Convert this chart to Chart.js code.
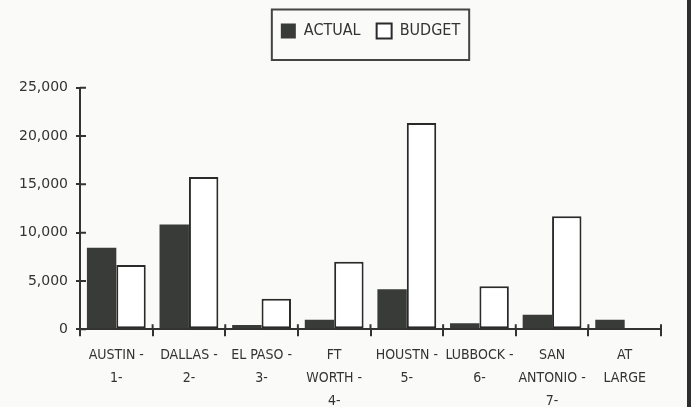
<!doctype html>
<html lang="en">
<head>
<meta charset="utf-8">
<title>Actual vs Budget</title>
<script src="https://cdn.jsdelivr.net/npm/chart.js@4.4.1/dist/chart.umd.min.js"></script>
<style>
  html, body { margin: 0; padding: 0; background: #fafaf8; overflow: hidden; }
  #wrap { width: 687px; height: 407px; border-right: 4px solid #2e2e2e; }
  canvas { display: block; }
</style>
</head>
<body>
<div id="wrap"><canvas id="myChart" width="687" height="407"></canvas></div>
<script>
// x축 라벨 (여러 줄)
const cities = [
  ["AUSTIN -", "1-"],
  ["DALLAS -", "2-"],
  ["EL PASO -", "3-"],
  ["FT", "WORTH -", "4-"],
  ["HOUSTN -", "5-"],
  ["LUBBOCK -", "6-"],
  ["SAN", "ANTONIO -", "7-"],
  ["AT", "LARGE"]
];
const actual = [8450, 10850, 450, 1000, 4150, 620, 1500, 1000];
const budget = [6650, 15750, 3150, 7000, 21350, 4450, 11700, 0];
const yTicks = [0, 5000, 10000, 15000, 20000, 25000];

const ink = "#333";
const narrow = "'Liberation Sans Narrow', 'DejaVu Sans Condensed', sans-serif";

// 축을 가로지르는 눈금 + 범례 테두리
const extras = {
  id: "extras",
  afterDraw(chart) {
    const ctx = chart.ctx;
    const area = chart.chartArea;
    const x = chart.scales.x, y = chart.scales.y;
    ctx.save();
    ctx.strokeStyle = ink;
    ctx.lineWidth = 2;
    ctx.beginPath();
    y.ticks.forEach(t => {
      const py = y.getPixelForValue(t.value);
      ctx.moveTo(area.left, py);
      ctx.lineTo(area.left + 6, py);
    });
    for (let i = 0; i <= cities.length; i++) {
      const px = x.getPixelForValue(i - 0.5);
      ctx.moveTo(px, area.bottom);
      ctx.lineTo(px, area.bottom - 5);
    }
    ctx.stroke();

    const boxes = chart.legend.legendHitBoxes;
    if (boxes && boxes.length) {
      const first = boxes[0], last = boxes[boxes.length - 1];
      const l = first.left - 9, r = last.left + last.width + 9;
      const t = first.top - 13.5, b = first.top + first.height + 21;
      ctx.strokeStyle = "#444";
      ctx.strokeRect(l, t, r - l, b - t);
    }
    ctx.restore();
  }
};

new Chart(document.getElementById("myChart"), {
  type: "bar",
  data: {
    labels: cities,
    datasets: [{
      label: "ACTUAL",
      data: actual,
      backgroundColor: "#393b38",
      borderColor: "#393b38",
      borderWidth: 0,
      categoryPercentage: 0.81,
      barPercentage: 1.0
    }, {
      label: "BUDGET",
      data: budget,
      backgroundColor: "#ffffff",
      borderColor: "#2a2a2a",
      borderWidth: 2,
      borderSkipped: false,
      categoryPercentage: 0.81,
      barPercentage: 1.0
    }]
  },
  plugins: [extras],
  options: {
    responsive: false,
    animation: false,
    devicePixelRatio: 1,
    layout: { padding: { top: 7, right: 26, bottom: 0, left: 0 } },
    plugins: {
      tooltip: { enabled: false },
      legend: {
        fullSize: false,
        labels: {
          color: ink,
          boxWidth: 15,
          boxHeight: 15,
          padding: 16,
          font: { family: narrow, size: 16 }
        }
      },
      // 범례와 차트 사이 여백용 빈 제목
      title: {
        display: true,
        text: "",
        weight: 500,
        font: { size: 10, lineHeight: 1 },
        padding: { top: 0, bottom: 28.7 }
      }
    },
    scales: {
      x: {
        offset: true,
        border: { color: ink, width: 2 },
        grid: { offset: true, drawOnChartArea: false, color: ink, lineWidth: 2, tickLength: 7 },
        ticks: {
          color: ink,
          padding: 8,
          maxRotation: 0,
          autoSkip: false,
          font: { family: narrow, size: 14, lineHeight: 23 / 14 }
        },
        afterFit(scale) { scale.height = 77.7; }
      },
      y: {
        min: 0,
        max: 25000,
        border: { color: ink, width: 2 },
        grid: { drawOnChartArea: false, color: ink, lineWidth: 2, tickLength: 4 },
        afterBuildTicks(scale) { scale.ticks = yTicks.map(v => ({ value: v })); },
        ticks: {
          color: ink,
          padding: 8,
          font: { family: "'DejaVu Sans', sans-serif", size: 14 },
          callback: v => v.toLocaleString("en-US")
        },
        afterFit(scale) { scale.width = 80; }
      }
    }
  }
});
</script>
</body>
</html>
